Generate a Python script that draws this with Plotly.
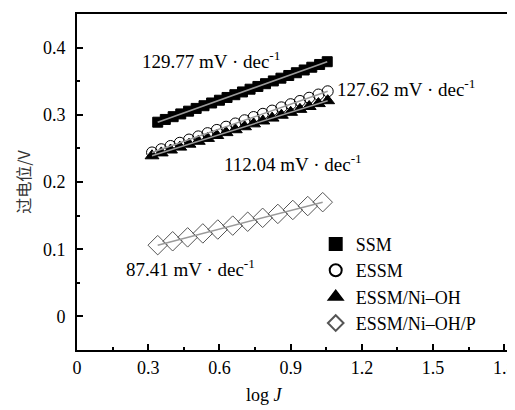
import numpy as np
import plotly.graph_objects as go

# ---- data ----
ssm_x = [0.340, 0.372, 0.405, 0.437, 0.470, 0.502, 0.535, 0.567, 0.600, 0.632, 0.665, 0.697,
         0.729, 0.762, 0.794, 0.827, 0.859, 0.892, 0.924, 0.957, 0.989, 1.022, 1.054]
ssm_y = [0.2890, 0.2931, 0.2972, 0.3013, 0.3054, 0.3095, 0.3135, 0.3176, 0.3217, 0.3258, 0.3299, 0.3340,
         0.3381, 0.3422, 0.3463, 0.3504, 0.3545, 0.3585, 0.3626, 0.3667, 0.3708, 0.3749, 0.3790]

essm_x = [0.316, 0.355, 0.394, 0.433, 0.472, 0.511, 0.550, 0.589, 0.628, 0.667,
          0.706, 0.744, 0.783, 0.822, 0.861, 0.900, 0.939, 0.978, 1.017, 1.056]
essm_y = [0.2440, 0.2488, 0.2536, 0.2584, 0.2632, 0.2679, 0.2727, 0.2775, 0.2823, 0.2871,
          0.2919, 0.2967, 0.3015, 0.3063, 0.3111, 0.3158, 0.3206, 0.3254, 0.3302, 0.3350]

nioh_x = [0.316, 0.355, 0.394, 0.433, 0.472, 0.511, 0.550, 0.589, 0.628, 0.667,
          0.706, 0.744, 0.783, 0.822, 0.861, 0.900, 0.939, 0.978, 1.017, 1.056]
nioh_y = [0.2390, 0.2433, 0.2476, 0.2519, 0.2563, 0.2606, 0.2649, 0.2692, 0.2735, 0.2778,
          0.2822, 0.2865, 0.2908, 0.2951, 0.2994, 0.3037, 0.3081, 0.3124, 0.3167, 0.3210]

p_x = [0.340, 0.403, 0.466, 0.530, 0.593, 0.656, 0.719, 0.782, 0.846, 0.909, 0.972, 1.035]
p_y = [0.1060, 0.1118, 0.1176, 0.1235, 0.1293, 0.1351, 0.1409, 0.1467, 0.1525, 0.1584, 0.1642, 0.1700]

series_names = ["SSM", "ESSM", "ESSM/Ni\u2013OH", "ESSM/Ni\u2013OH/P"]
tafel_labels = ["129.77", "127.62", "112.04", "87.41"]
x_tick_vals = [0, 0.3, 0.6, 0.9, 1.2, 1.5, 1.8]
x_tick_text = ["0", "0.3", "0.6", "0.9", "1.2", "1.5", "1.8"]
y_tick_vals = [0, 0.1, 0.2, 0.3, 0.4]
y_tick_text = ["0", "0.1", "0.2", "0.3", "0.4"]

SERIF = "Liberation Serif, Times New Roman, serif"
CJK = "Noto Sans CJK SC"

fig = go.Figure()

styles = [
    dict(symbol="square", size=10, color="black", line=dict(color="black", width=1)),
    dict(symbol="circle-open", size=11, color="black", line=dict(color="black", width=1)),
    dict(symbol="triangle-up", size=12, color="black", line=dict(color="black", width=1)),
    dict(symbol="diamond-open", size=15, color="#555555", line=dict(color="#555555", width=1)),
]
data = [(ssm_x, ssm_y), (essm_x, essm_y), (nioh_x, nioh_y), (p_x, p_y)]

for (xs, ys), st, nm in zip(data, styles, series_names):
    fig.add_trace(go.Scatter(x=xs, y=ys, mode="markers", name=nm, marker=st))

# fitted lines
for (xs, ys) in data:
    k, b = np.polyfit(xs, ys, 1)
    xx = np.array([xs[0], xs[-1]])
    fig.add_trace(go.Scatter(x=xx, y=k * xx + b, mode="lines", showlegend=False,
                             line=dict(color="#9a9a9a", width=1.5), hoverinfo="skip"))

ann_pos = [(0.565, 0.382), (1.386, 0.340), (0.911, 0.228), (0.476, 0.0716)]
for (ax, ay), t in zip(ann_pos, tafel_labels):
    fig.add_annotation(x=ax, y=ay, xref="x", yref="y", showarrow=False,
                       text=f"{t} mV \u00b7 dec<sup>-1</sup>",
                       font=dict(family=SERIF, size=19, color="black"))

fig.add_annotation(x=0.427, y=-0.134, xref="paper", yref="paper", showarrow=False,
                   text="log <i>J</i>", font=dict(family=SERIF, size=18, color="black"),
                   yanchor="middle")

# page body has an 8px margin, so the figure is sized to the window minus that
fig.update_layout(
    width=507, height=402,
    margin=dict(l=69, r=0, t=6, b=60),
    plot_bgcolor="white", paper_bgcolor="white",
    showlegend=True,
    legend=dict(x=0.545, y=0.37, xanchor="left", yanchor="top",
                font=dict(family=SERIF, size=18, color="black"),
                bgcolor="rgba(0,0,0,0)", tracegroupgap=0, itemwidth=30,
                itemsizing="constant"),
    xaxis=dict(range=[0, 1.845], tickvals=x_tick_vals, ticktext=x_tick_text,
               showline=True, linecolor="black", linewidth=2, mirror=True,
               ticks="inside", ticklen=6, tickwidth=2, tickcolor="black",
               minor=dict(ticks="inside", ticklen=3, tickwidth=2, tickcolor="black", dtick=0.15, tick0=0),
               showgrid=False, zeroline=False, ticklabeloverflow="allow",
               tickfont=dict(family=SERIF, size=18, color="black")),
    yaxis=dict(range=[-0.05, 0.45], tickvals=y_tick_vals, ticktext=y_tick_text,
               showline=True, linecolor="black", linewidth=2, mirror=False,
               ticks="inside", ticklen=6, tickwidth=2, tickcolor="black",
               minor=dict(ticks="inside", ticklen=3, tickwidth=2, tickcolor="black", dtick=0.05, tick0=0),
               showgrid=False, zeroline=False, ticklabelstandoff=6,
               tickfont=dict(family=SERIF, size=18, color="black"),
               title=dict(text="过电位/V", font=dict(family=CJK, size=16, color="#333333"),
                          standoff=8)),
)

fig.write_html("out.html")
